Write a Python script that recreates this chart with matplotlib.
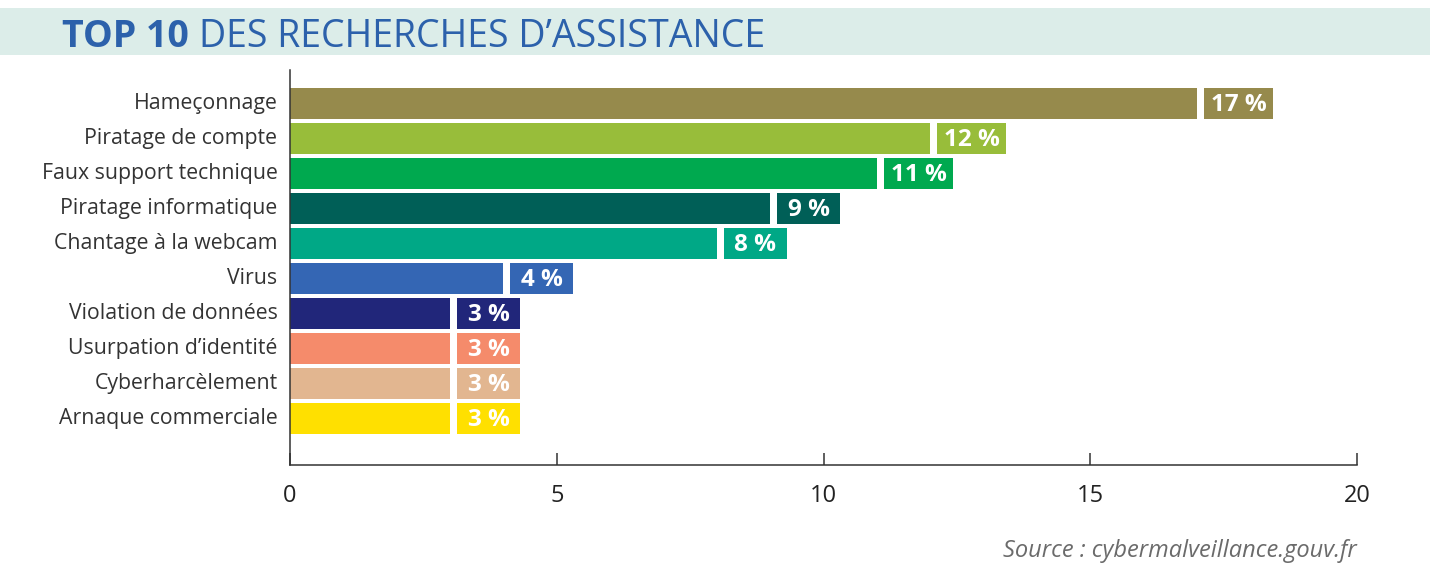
import matplotlib
matplotlib.use('Agg')
import matplotlib.pyplot as plt
from matplotlib.patches import Rectangle

categories = ["Hameçonnage", "Piratage de compte", "Faux support technique",
              "Piratage informatique", "Chantage à la webcam", "Virus",
              "Violation de données", "Usurpation d’identité",
              "Cyberharcèlement", "Arnaque commerciale"]
values = [17, 12, 11, 9, 8, 4, 3, 3, 3, 3]
value_labels = ["17 %", "12 %", "11 %", "9 %", "8 %", "4 %", "3 %", "3 %", "3 %", "3 %"]
colors = ["#968a4c", "#98bd3a", "#00a94f", "#005f57", "#00a886",
          "#3466b4", "#21267a", "#f58b6b", "#e2b690", "#ffe000"]
xticks = [0, 5, 10, 15, 20]

W, H = 1430, 586
fig = plt.figure(figsize=(W / 100, H / 100), dpi=100)

# title band
fig.patches.append(Rectangle((0, 1 - 55 / H), 1, 47 / H, transform=fig.transFigure,
                             facecolor="#dcede9", edgecolor="none", zorder=0))
title_color = "#2c61ab"
renderer = fig.canvas.get_renderer()
t1 = fig.text(62 / W, 1 - 37 / H, "TOP 10", fontsize=27, fontweight="bold",
              color=title_color, family="Open Sans", va="center", ha="left")
bb = t1.get_window_extent(renderer=renderer)
fig.text((bb.x1 + 10) / W, 1 - 37 / H, "DES RECHERCHES D’ASSISTANCE", fontsize=27,
         color=title_color, family="Open Sans", va="center", ha="left")

ax = fig.add_axes([290 / W, 1 - 465 / H, (1357 - 290) / W, (465 - 70) / H])
ypos = list(range(len(categories)))
bar_h = 0.886
ax.barh(ypos, values, height=bar_h, color=colors, zorder=2)

gap = 0.13
box_w = [1.30 if len(l) > 3 else 1.18 for l in value_labels]
lefts = [v + gap for v in values]
ax.barh(ypos, box_w, left=lefts, height=bar_h, color=colors, zorder=2)
for yi, l, w, lab in zip(ypos, lefts, box_w, value_labels):
    ax.text(l + w / 2, yi + 0.04, lab, ha="center", va="center", color="white",
            fontsize=17.5, fontweight="bold", family="Open Sans", zorder=3)

ax.set_xlim(0, 20)
ax.set_ylim(10.33, -0.957)
ax.set_yticks(ypos)
ax.set_yticklabels(categories, family="Open Sans", fontsize=15.3, color="#333333",
                   va="center")
ax.set_xticks(xticks)
ax.set_xticklabels([str(x) for x in xticks], family="Open Sans", fontsize=17, color="#222222")
ax.tick_params(axis="y", length=0, pad=9)
ax.tick_params(axis="x", direction="in", length=9, width=1.1, color="#333333", pad=14)
for s in ["top", "right"]:
    ax.spines[s].set_visible(False)
for s in ["left", "bottom"]:
    ax.spines[s].set_color("#333333")
    ax.spines[s].set_linewidth(1.1)

fig.text(1357 / W, 1 - 551 / H, "Source : cybermalveillance.gouv.fr", fontsize=17,
         style="italic", color="#6b6b6b", family="Open Sans", ha="right", va="center")

fig.savefig("out.png", dpi=100)
